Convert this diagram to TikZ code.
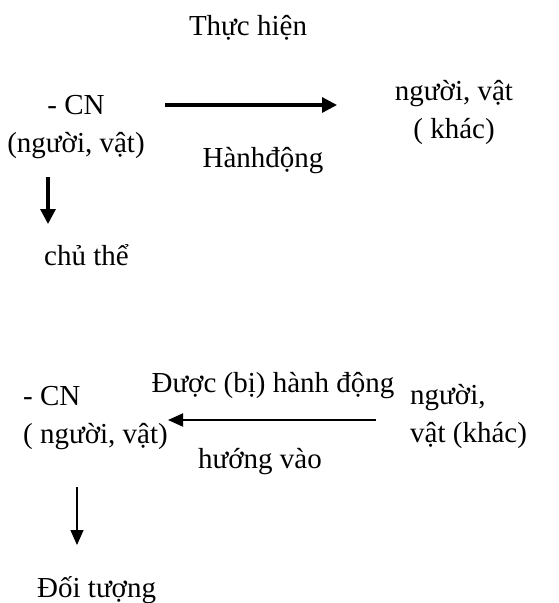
\documentclass[tikz,border=0pt]{standalone}
\usepackage{fontspec}
\setmainfont{Liberation Serif}
\usetikzlibrary{arrows.meta}

\begin{document}
\begin{tikzpicture}[x=1pt, y=-1pt,
    lbl/.style={font=\fontsize{29}{38}\selectfont, inner sep=0pt},
    boldarrow/.style={-{Triangle[length=15pt,width=15pt]}, line width=3.2pt},
    thinarrow/.style={-{Triangle[length=15pt,width=13pt]}, line width=1.6pt}
]
\useasboundingbox (0,0) rectangle (559,603);

% Chu the thuc hien hanh dong
\node[lbl, anchor=base] (thuc) at (248,35) {Thực hiện};
\node[lbl, anchor=base, align=center] (cn1) at (76,152) {- CN\\(người, vật)};
\node[lbl, anchor=base, align=center] (khac1) at (454,138) {người, vật\\( khác)};
\node[lbl, anchor=base] (hanh) at (263,167) {Hànhđộng};
\node[lbl, anchor=base west] (chuthe) at (44,265) {chủ thể};

% Doi tuong duoc hanh dong huong vao
\node[lbl, anchor=base] (duoc) at (273,392) {Được (bị) hành động};
\node[lbl, anchor=base west, align=left] (cn2) at (23,443) {- CN\\( người, vật)};
\node[lbl, anchor=base west, align=left] (khac2) at (410,442) {người,\\vật (khác)};
\node[lbl, anchor=base] (huong) at (260,468) {hướng vào};
\node[lbl, anchor=base west] (doituong) at (37,597) {Đối tượng};

% Arrow ends
\coordinate (act1s) at (165,105);
\coordinate (act1e) at (337,105);
\coordinate (sub1s) at (48,177);
\coordinate (sub1e) at (48,224);
\coordinate (act2s) at (376,420);
\coordinate (act2e) at (168,420);
\coordinate (sub2s) at (77,487);
\coordinate (sub2e) at (77,545);

% Connections
\draw[boldarrow] (act1s) -- (act1e);
\draw[boldarrow] (sub1s) -- (sub1e);
\draw[thinarrow, line width=2pt] (act2s) -- (act2e);
\draw[thinarrow, line width=1.4pt] (sub2s) -- (sub2e);

\end{tikzpicture}
\end{document}
